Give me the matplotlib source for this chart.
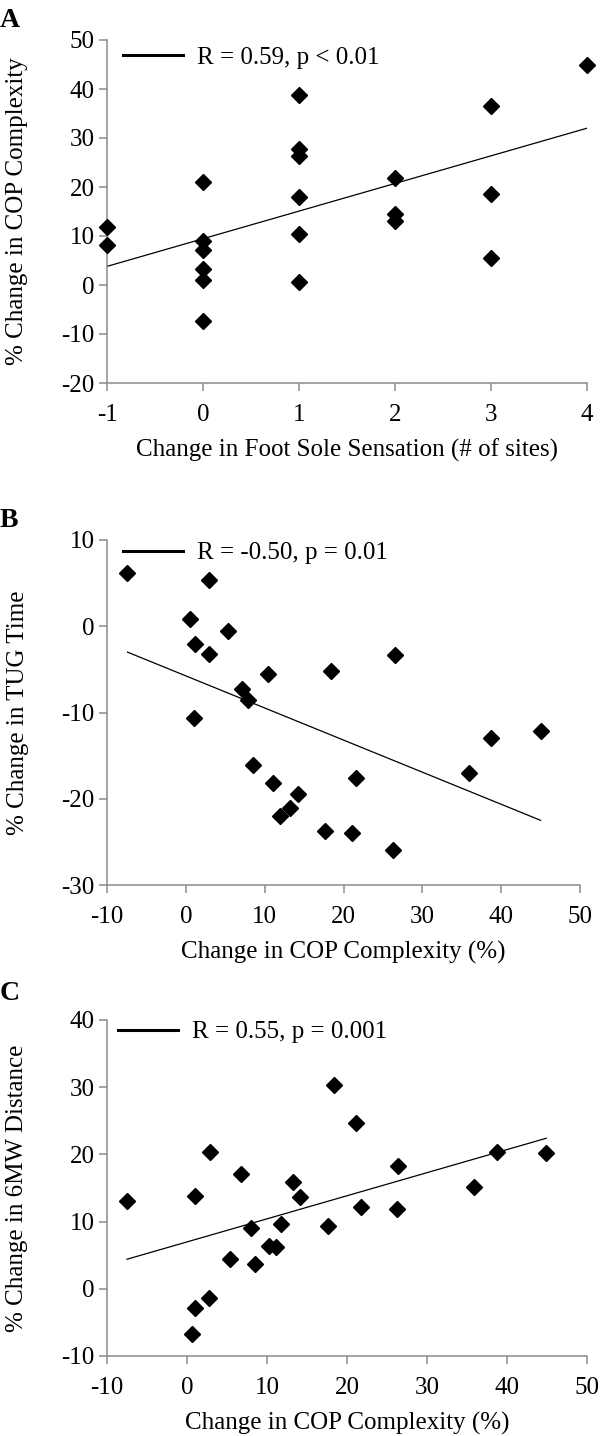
import matplotlib.pyplot as plt
import numpy as np

plt.rcParams['font.family'] = ['Liberation Serif', 'DejaVu Serif']
plt.rcParams['axes.unicode_minus'] = False

# panel A: foot sole sensation vs COP complexity
sens = [-1, -1, 0, 0, 0, 0, 0, 0, 1, 1, 1, 1, 1, 1, 2, 2, 2, 3, 3, 3, 4]
cop_a = [11.9, 8.1, 21.1, 9.0, 7.1, 3.2, 1.0, -7.4, 38.7, 27.7, 26.4, 17.9, 10.5, 0.6,
         21.8, 14.5, 13.1, 36.5, 18.6, 5.6, 44.9]
fit_a = [3.8, 32.0]   # trend line value at the x ends

# panel B: COP complexity vs TUG time
cop_b = [-7.4, 2.9, 0.5, 5.4, 1.1, 2.9, 26.5, 18.4, 10.4, 7.1, 7.9, 1.0, 38.7, 45.0,
         8.5, 35.9, 21.6, 11.1, 14.2, 13.2, 11.9, 17.7, 21.1, 26.3]
tug = [6.2, 5.4, 0.8, -0.5, -2.0, -3.2, -3.3, -5.2, -5.5, -7.3, -8.6, -10.6, -12.9, -12.2,
       -16.1, -17.0, -17.6, -18.2, -19.5, -21.1, -22.0, -23.7, -24.0, -25.9]
fit_b = [-3.0, -22.5]

# panel C: COP complexity vs 6MW distance
cop_c = [-7.5, 1.0, 2.9, 6.8, 18.4, 21.1, 13.2, 14.1, 26.4, 38.7, 44.9, 35.9, 21.7, 26.3,
         11.8, 8.0, 17.6, 10.2, 11.1, 5.4, 8.5, 2.8, 1.0, 0.6]
walk = [13.1, 13.8, 20.3, 17.1, 30.3, 24.6, 15.9, 13.6, 18.2, 20.3, 20.2, 15.1, 12.1, 11.9,
        9.7, 9.0, 9.3, 6.3, 6.2, 4.5, 3.7, -1.3, -2.9, -6.7]
fit_c = [4.4, 22.4]

panels = [
    ('A', sens, cop_a, fit_a, 'R = 0.59, p < 0.01', 'Change in Foot Sole Sensation (# of sites)',
     '% Change in COP Complexity', (-1, 4), (-20, 50)),
    ('B', cop_b, tug, fit_b, 'R = -0.50, p = 0.01', 'Change in COP Complexity (%)',
     '% Change in TUG Time', (-10, 50), (-30, 10)),
    ('C', cop_c, walk, fit_c, 'R = 0.55, p = 0.001', 'Change in COP Complexity (%)',
     '% Change in 6MW Distance', (-10, 50), (-10, 40)),
]

# axes boxes in pixels: left, right, top, bottom
boxes = [(107, 587, 40, 383), (107, 580, 540, 885), (107, 587, 1020, 1356)]
leg_pos = [(0.033, 0.948), (0.034, 0.962), (0.023, 0.964)]
lab_top = [12, 512, 985]

W, H = 600, 1436
fig = plt.figure(figsize=(6, 14.36), dpi=100)
grey = '#8c8c8c'
fs = 18

for i, (tag, x, y, fit, rtxt, xl, yl, xlim, ylim) in enumerate(panels):
    l, r, t, b = boxes[i]
    ax = fig.add_axes([l / W, 1 - b / H, (r - l) / W, (b - t) / H])
    ax.plot(x, y, 'D', color='black', ms=8, zorder=3, clip_on=False)
    ax.plot([min(x), max(x)], fit, color='black', lw=0.9)
    h, = ax.plot([], [], color='black', lw=2.2)
    ax.legend([h], [rtxt], loc='center left', bbox_to_anchor=leg_pos[i], frameon=False,
              fontsize=fs, handlelength=2.4, handletextpad=0.55, borderpad=0, borderaxespad=0)
    ax.set_xlim(*xlim)
    ax.set_ylim(*ylim)
    if tag == 'A':
        ax.set_xticks(range(xlim[0], xlim[1] + 1))
    else:
        ax.set_xticks(range(xlim[0], xlim[1] + 1, 10))
    ax.set_yticks(range(ylim[0], ylim[1] + 1, 10))
    for s in ['top', 'right']:
        ax.spines[s].set_visible(False)
    for s in ['left', 'bottom']:
        ax.spines[s].set_color(grey)
        ax.spines[s].set_linewidth(1.1)
    ax.tick_params(axis='both', direction='out', length=6, width=1.1, color=grey, labelsize=fs)
    ax.tick_params(axis='x', pad=9)
    ax.tick_params(axis='y', pad=3)
    ax.set_xlabel(xl, fontsize=fs)
    ax.set_ylabel(yl, fontsize=fs)
    ax.xaxis.set_label_coords(0.5, -56 / (b - t))
    ax.yaxis.set_label_coords(-0.165, 0.5)
    fig.text(0.0, 1 - (lab_top[i] - 4) / H, tag, fontsize=20, fontweight='bold', ha='left', va='top')

fig.savefig('out.png', dpi=100)
